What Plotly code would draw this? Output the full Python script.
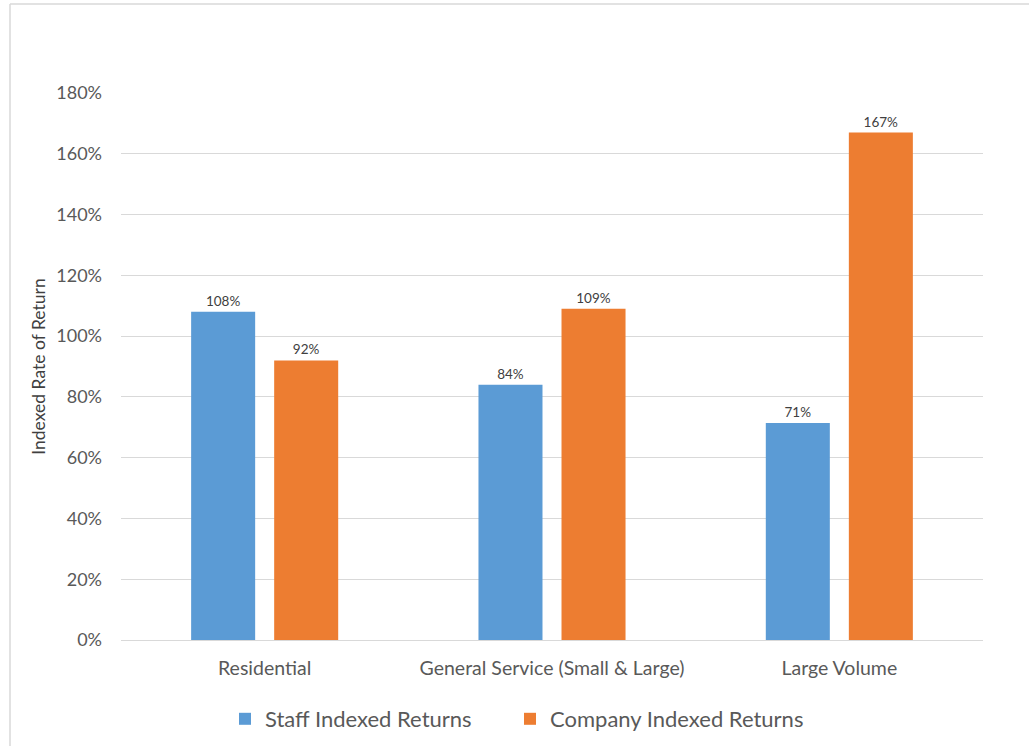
import plotly.graph_objects as go

categories = ["Residential", "General Service (Small & Large)", "Large Volume"]
staff_returns = [108, 84, 71.4]
company_returns = [92, 109, 167]
y_ticks = [0, 20, 40, 60, 80, 100, 120, 140, 160, 180]
y_tick_labels = [f"{v}%" for v in y_ticks]

W, H = 1029, 746
ML, MR, MT, MB = 121, 46, 93, 106
FONT = "Lato, Carlito, Liberation Sans, sans-serif"

fig = go.Figure()
fig.add_trace(go.Bar(
    name="Staff Indexed Returns", x=categories, y=staff_returns,
    marker=dict(color="#5B9BD5", line=dict(width=0)),
    texttemplate="%{y:.0f}%", textposition="outside",
    textfont=dict(size=13.5, color="#404040", family=FONT), cliponaxis=False,
    legend="legend",
))
fig.add_trace(go.Bar(
    name="Company Indexed Returns", x=categories, y=company_returns,
    marker=dict(color="#ED7D31", line=dict(width=0)),
    texttemplate="%{y:.0f}%", textposition="outside",
    textfont=dict(size=13.5, color="#404040", family=FONT), cliponaxis=False,
    legend="legend2",
))

pw = W - ML - MR
ph = H - MT - MB
def px_x(p):
    return (p - ML) / pw
def px_y(p):
    return (H - MB - p) / ph

# light outer frame (left and top edges)
frame = dict(color="#D9D9D9", width=1.5)
fig.add_shape(type="line", xref="paper", yref="paper",
              x0=px_x(10), x1=px_x(10), y0=px_y(4), y1=px_y(746), line=frame)
fig.add_shape(type="line", xref="paper", yref="paper",
              x0=px_x(10), x1=px_x(1029), y0=px_y(4), y1=px_y(4), line=frame)

legend_style = dict(orientation="h", xref="container", yref="container",
                    xanchor="left", y=1 - 719 / H, yanchor="middle",
                    font=dict(size=22, color="#595959", family=FONT),
                    itemwidth=30, bgcolor="rgba(0,0,0,0)")

fig.update_layout(
    width=W, height=H,
    margin=dict(l=ML, r=MR, t=MT, b=MB, pad=0, autoexpand=False),
    paper_bgcolor="white", plot_bgcolor="white",
    barmode="group", bargap=0.422, bargroupgap=0.229,
    font=dict(family=FONT, color="#595959"),
    showlegend=True,
    legend=dict(legend_style, x=225 / W),
    legend2=dict(legend_style, x=510 / W),
    xaxis=dict(showgrid=False, showline=False, ticks="", ticklabelstandoff=14,
               automargin=False,
               tickfont=dict(size=19.5, color="#595959", family=FONT)),
    yaxis=dict(range=[0, 180], tickvals=y_ticks, ticktext=y_tick_labels,
               showgrid=True, gridcolor="#D9D9D9", gridwidth=1,
               zeroline=True, zerolinecolor="#D9D9D9", zerolinewidth=1,
               showline=False, ticks="", ticklabelstandoff=18, automargin=False,
               tickfont=dict(size=18, color="#595959", family=FONT),
               title=dict(text="Indexed Rate of Return", standoff=6,
                          font=dict(size=17.5, color="#404040", family=FONT))),
)

fig.write_html("out.html")
